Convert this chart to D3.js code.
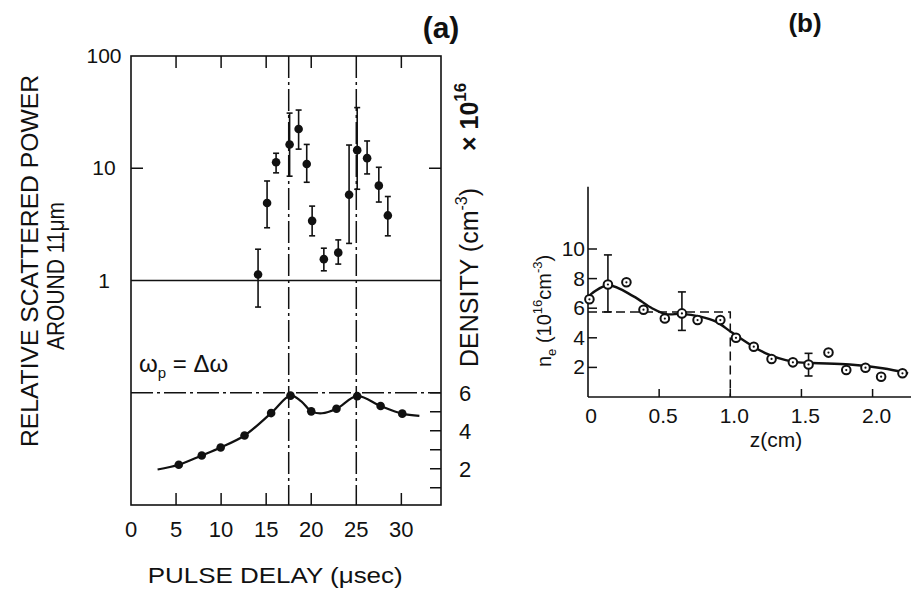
<!DOCTYPE html>
<html>
<head>
<meta charset="utf-8">
<script src="https://cdn.jsdelivr.net/npm/d3@7"></script>
<style>
  body { margin: 0; background: #fff; }
  svg { display: block; }
  text { font-family: "Liberation Sans", Arial, sans-serif; fill: #111; }
</style>
</head>
<body>
<svg id="chart" width="913" height="595"></svg>
<script>
// ---- panel (a): scattered power vs pulse delay (log), density (linear, right) ----
const delayTicks = [0, 5, 10, 15, 20, 25, 30];
const delayMinorTicks = [5, 10, 15, 20, 30];
const powerTicks = [100, 10, 1];
const densityTicks = [6, 4, 2];
const densityMinor = [1, 2, 3, 4, 5, 6];
const markDelays = [17.5, 25];

const powerDelay = [14.1, 15.1, 16.1, 17.6, 18.6, 19.5, 20.1, 21.4, 23.0, 24.2, 25.1, 26.2, 27.5, 28.5];
const powerValue = [1.13, 4.9, 11.3, 16.3, 22.4, 10.9, 3.4, 1.55, 1.77, 5.8, 14.5, 12.3, 7.0, 3.8];
const powerLow   = [0.58, 2.95, 9.1, 8.5, 14.8, 7.5, 2.5, 1.22, 1.4, 2.14, 6.5, 8.9, 5.0, 2.5];
const powerHigh  = [1.9, 7.7, 13.6, 31, 33, 16.3, 4.6, 1.94, 2.3, 16.1, 34.7, 17.5, 10.2, 5.6];

const densDelay = [5.3, 7.85, 9.95, 12.6, 15.55, 17.7, 20.0, 22.8, 25.1, 27.7, 30.1];
const densValue = [2.21, 2.7, 3.12, 3.75, 4.93, 5.85, 5.02, 5.16, 5.82, 5.3, 4.9];
const densCurveDelay = [2.95, 5.3, 7.85, 9.95, 12.6, 15.55, 17.7, 18.9, 20.0, 21.2, 22.8, 25.1, 27.7, 30.1, 32.0];
const densCurveValue = [1.96, 2.21, 2.7, 3.12, 3.75, 4.93, 5.85, 5.55, 5.02, 4.92, 5.16, 5.82, 5.3, 4.9, 4.78];

// ---- panel (b): n_e vs z ----
const zTicks = [0, 0.5, 1.0, 1.5, 2.0];
const zLabels = ["0", "0.5", "1.0", "1.5", "2.0"];
const neTicks = [2, 4, 6, 8, 10];
const zPos    = [0.01, 0.14, 0.27, 0.39, 0.54, 0.66, 0.77, 0.93, 1.04, 1.165, 1.29, 1.44, 1.55, 1.69, 1.815, 1.95, 2.06, 2.21];
const neValue = [6.6, 7.6, 7.75, 5.9, 5.3, 5.65, 5.2, 5.2, 4.0, 3.4, 2.57, 2.34, 2.2, 3.0, 1.82, 1.98, 1.37, 1.6];
const errZ    = [0.14, 0.66, 1.55];
const errLow  = [5.75, 4.5, 1.42];
const errHigh = [9.6, 7.1, 2.95];
const curveZ  = [0.0, 0.14, 0.32, 0.45, 0.55, 0.66, 0.79, 0.9, 1.02, 1.25, 1.44, 1.58, 1.84, 2.07, 2.25];
const curveNe = [6.78, 7.55, 6.8, 6.0, 5.6, 5.62, 5.43, 5.09, 4.3, 2.95, 2.39, 2.3, 2.2, 1.94, 1.6];
const stepZ = 1.0;
const stepNe = 5.75;

const svg = d3.select("#chart");
const ink = "#111";

// scales (a)
const xA = d3.scaleLinear().domain([0, 34.4]).range([131, 441]);
const yA = d3.scaleLog().domain([0.01, 100]).range([505, 56]);
const yD = d3.scaleLinear().domain([0, 6]).range([yA(0.1) + 6 * 19, yA(0.1)]);

const gA = svg.append("g");

// frame
gA.append("rect")
    .attr("x", xA(0)).attr("y", yA(100))
    .attr("width", xA(34.4) - xA(0)).attr("height", yA(0.01) - yA(100))
    .attr("fill", "none").attr("stroke", ink).attr("stroke-width", 1.6);

// inner ticks top / bottom
delayMinorTicks.forEach(v => {
    gA.append("line").attr("x1", xA(v)).attr("x2", xA(v))
        .attr("y1", yA(0.01)).attr("y2", yA(0.01) - 12)
        .attr("stroke", ink).attr("stroke-width", 1.5);
    gA.append("line").attr("x1", xA(v)).attr("x2", xA(v))
        .attr("y1", yA(100)).attr("y2", yA(100) + 12)
        .attr("stroke", ink).attr("stroke-width", 1.5);
});
// decade ticks left / right
gA.append("line").attr("x1", xA(0)).attr("x2", xA(0) + 12)
    .attr("y1", yA(10)).attr("y2", yA(10)).attr("stroke", ink).attr("stroke-width", 1.5);
gA.append("line").attr("x1", xA(34.4)).attr("x2", xA(34.4) - 12)
    .attr("y1", yA(10)).attr("y2", yA(10)).attr("stroke", ink).attr("stroke-width", 1.5);
// density ticks right
densityMinor.forEach(v => {
    gA.append("line").attr("x1", xA(34.4)).attr("x2", xA(34.4) - 11)
        .attr("y1", yD(v)).attr("y2", yD(v)).attr("stroke", ink).attr("stroke-width", 1.5);
});

// reference lines
gA.append("line").attr("x1", xA(0)).attr("x2", xA(34.4))
    .attr("y1", yA(1)).attr("y2", yA(1)).attr("stroke", ink).attr("stroke-width", 1.5);
gA.append("line").attr("x1", xA(0)).attr("x2", xA(34.4))
    .attr("y1", yA(0.1)).attr("y2", yA(0.1)).attr("stroke", ink).attr("stroke-width", 1.5)
    .attr("stroke-dasharray", "22,4,3,4");
markDelays.forEach(v => {
    gA.append("line").attr("x1", xA(v)).attr("x2", xA(v))
        .attr("y1", yA(100)).attr("y2", yA(0.01))
        .attr("stroke", ink).attr("stroke-width", 1.5).attr("stroke-dasharray", "22,4,3,4");
});

// power error bars + points
powerDelay.forEach((t, i) => {
    const x = xA(t);
    gA.append("line").attr("x1", x).attr("x2", x)
        .attr("y1", yA(powerLow[i])).attr("y2", yA(powerHigh[i]))
        .attr("stroke", ink).attr("stroke-width", 1.6);
    [powerLow[i], powerHigh[i]].forEach(v => {
        gA.append("line").attr("x1", x - 3).attr("x2", x + 3)
            .attr("y1", yA(v)).attr("y2", yA(v))
            .attr("stroke", ink).attr("stroke-width", 1.6);
    });
});
gA.selectAll("circle.pw")
    .data(powerDelay.map((t, i) => [t, powerValue[i]]))
    .join("circle").attr("class", "pw")
    .attr("cx", d => xA(d[0])).attr("cy", d => yA(d[1]))
    .attr("r", 4.3).attr("fill", ink);

// density curve + points
const densLine = d3.line()
    .x((d, i) => xA(d))
    .y((d, i) => yD(densCurveValue[i]))
    .curve(d3.curveCatmullRom.alpha(0.5));
gA.append("path").attr("d", densLine(densCurveDelay))
    .attr("fill", "none").attr("stroke", ink).attr("stroke-width", 2.2);
gA.selectAll("circle.dn")
    .data(densDelay.map((t, i) => [t, densValue[i]]))
    .join("circle").attr("class", "dn")
    .attr("cx", d => xA(d[0])).attr("cy", d => yD(d[1]))
    .attr("r", 4.3).attr("fill", ink);

// tick labels
gA.selectAll("text.xl").data(delayTicks).join("text").attr("class", "xl")
    .attr("x", d => xA(d)).attr("y", 537)
    .attr("text-anchor", "middle").attr("font-size", 22)
    .text(d => d);
gA.selectAll("text.yl").data(powerTicks).join("text").attr("class", "yl")
    .attr("x", xA(0) - 27).attr("y", d => yA(d) + 7)
    .attr("text-anchor", "middle").attr("font-size", 21)
    .text(d => d);
gA.selectAll("text.dl").data(densityTicks).join("text").attr("class", "dl")
    .attr("x", xA(34.4) + 24).attr("y", d => yD(d) + 8)
    .attr("text-anchor", "middle").attr("font-size", 22)
    .text(d => d);

// axis titles
gA.append("text").attr("transform", `translate(${(xA(0) + xA(32)) / 2},583)`)
    .attr("text-anchor", "middle").attr("font-size", 22)
    .attr("textLength", 255).attr("lengthAdjust", "spacingAndGlyphs")
    .text("PULSE DELAY (\u03bcsec)");

gA.append("text").attr("transform", "translate(38,261) rotate(-90)")
    .attr("text-anchor", "middle").attr("font-size", 23)
    .attr("textLength", 372).attr("lengthAdjust", "spacingAndGlyphs")
    .text("RELATIVE SCATTERED POWER");
gA.append("text").attr("transform", "translate(64,276) rotate(-90)")
    .attr("text-anchor", "middle").attr("font-size", 23)
    .attr("textLength", 148).attr("lengthAdjust", "spacingAndGlyphs")
    .text("AROUND 11\u03bcm");

const rLab = gA.append("text").attr("transform", "translate(478,367) rotate(-90)")
    .attr("text-anchor", "start").attr("font-size", 25);
rLab.append("tspan").text("DENSITY (cm");
rLab.append("tspan").attr("font-size", 16).attr("dy", -11).text("-3");
rLab.append("tspan").attr("dy", 11).text(")");
const xLab = gA.append("text").attr("transform", "translate(478,151) rotate(-90)")
    .attr("text-anchor", "start").attr("font-size", 25).attr("font-weight", "bold");
xLab.append("tspan").text("\u00d7 10");
xLab.append("tspan").attr("font-size", 17).attr("dy", -12).text("16");

const wLab = gA.append("text").attr("x", 139).attr("y", 372).attr("font-size", 24);
wLab.append("tspan").text("\u03c9");
wLab.append("tspan").attr("font-size", 15).attr("dy", 6).text("p");
wLab.append("tspan").attr("dy", -6).text(" = \u0394\u03c9");

gA.append("text").attr("x", 441).attr("y", 38).attr("text-anchor", "middle")
    .attr("font-size", 30).attr("font-weight", "bold").text("(a)");

// ---- panel (b) ----
const xB = d3.scaleLinear().domain([0, 2.27]).range([588, 911]);
const yB = d3.scaleLinear().domain([0, 10]).range([397, 249]);
const gB = svg.append("g");

gB.append("line").attr("x1", xB(0)).attr("x2", xB(2.27))
    .attr("y1", yB(0)).attr("y2", yB(0)).attr("stroke", ink).attr("stroke-width", 1.6);
gB.append("line").attr("x1", xB(0)).attr("x2", xB(0))
    .attr("y1", yB(0)).attr("y2", yB(14.2)).attr("stroke", ink).attr("stroke-width", 1.6);

zTicks.slice(1).forEach(v => {
    gB.append("line").attr("x1", xB(v)).attr("x2", xB(v))
        .attr("y1", yB(0)).attr("y2", yB(0) - 8).attr("stroke", ink).attr("stroke-width", 1.5);
});
neTicks.forEach(v => {
    gB.append("line").attr("x1", xB(0)).attr("x2", xB(0) + 9)
        .attr("y1", yB(v)).attr("y2", yB(v)).attr("stroke", ink).attr("stroke-width", 1.5);
});

// dashed step
gB.append("path")
    .attr("d", d3.line()([[xB(0), yB(stepNe)], [xB(stepZ), yB(stepNe)], [xB(stepZ), yB(0)]]))
    .attr("fill", "none").attr("stroke", ink).attr("stroke-width", 1.5).attr("stroke-dasharray", "9,5");

// curve
const neLine = d3.line()
    .x(d => xB(d))
    .y((d, i) => yB(curveNe[i]))
    .curve(d3.curveCatmullRom.alpha(0.5));
gB.append("path").attr("d", neLine(curveZ))
    .attr("fill", "none").attr("stroke", ink).attr("stroke-width", 2.4);

// error bars
errZ.forEach((z, i) => {
    const x = xB(z);
    gB.append("line").attr("x1", x).attr("x2", x)
        .attr("y1", yB(errLow[i])).attr("y2", yB(errHigh[i]))
        .attr("stroke", ink).attr("stroke-width", 1.6);
    [errLow[i], errHigh[i]].forEach(v => {
        gB.append("line").attr("x1", x - 4).attr("x2", x + 4)
            .attr("y1", yB(v)).attr("y2", yB(v)).attr("stroke", ink).attr("stroke-width", 1.6);
    });
});

// open circles with centre dot
const pts = zPos.map((z, i) => [z, neValue[i]]);
gB.selectAll("circle.ob").data(pts).join("circle").attr("class", "ob")
    .attr("cx", d => xB(d[0])).attr("cy", d => yB(d[1]))
    .attr("r", 4.3).attr("fill", "#fff").attr("stroke", ink).attr("stroke-width", 2);
gB.selectAll("circle.cd").data(pts).join("circle").attr("class", "cd")
    .attr("cx", d => xB(d[0])).attr("cy", d => yB(d[1]))
    .attr("r", 1.1).attr("fill", ink);

// labels
gB.selectAll("text.zl").data(zTicks).join("text").attr("class", "zl")
    .attr("x", (d, i) => xB(d) + (i === 0 ? 3 : 4)).attr("y", 423)
    .attr("text-anchor", "middle").attr("font-size", 21)
    .text((d, i) => zLabels[i]);
gB.selectAll("text.nl").data(neTicks).join("text").attr("class", "nl")
    .attr("x", xB(0) - 3).attr("y", d => yB(d) + 7)
    .attr("text-anchor", "end").attr("font-size", 21)
    .text(d => d);
gB.append("text").attr("x", 776).attr("y", 447).attr("text-anchor", "middle")
    .attr("font-size", 21).text("z(cm)");

const nLab = gB.append("text").attr("transform", "translate(551,367) rotate(-90)")
    .attr("text-anchor", "start").attr("font-size", 20);
nLab.append("tspan").text("n");
nLab.append("tspan").attr("font-size", 13).attr("dy", 5).text("e");
nLab.append("tspan").attr("dy", -5).text(" (10");
nLab.append("tspan").attr("font-size", 13).attr("dy", -9).text("16");
nLab.append("tspan").attr("dy", 9).text("cm");
nLab.append("tspan").attr("font-size", 13).attr("dy", -9).text("-3");
nLab.append("tspan").attr("dy", 9).text(")");

gB.append("text").attr("x", 805).attr("y", 32).attr("text-anchor", "middle")
    .attr("font-size", 26).attr("font-weight", "bold").text("(b)");
</script>
</body>
</html>
